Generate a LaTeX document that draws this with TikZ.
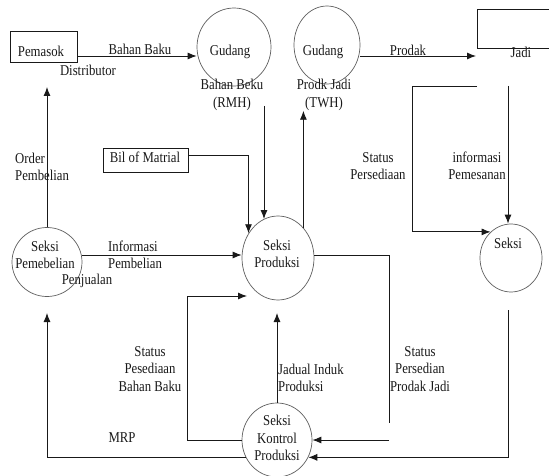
\documentclass[tikz,border=0pt]{standalone}
\usepackage{fontspec}
\setmainfont{Liberation Serif}[FakeStretch=0.85]
\usetikzlibrary{arrows.meta,shapes.geometric}
\definecolor{ink}{RGB}{25,25,25}
\definecolor{rim}{RGB}{95,95,95}
\begin{document}
\begin{tikzpicture}[x=1pt,y=-1pt,
  lbl/.style={font=\fontsize{15}{17.5}\selectfont, inner sep=0pt, text=ink},
  wire/.style={draw=ink, line width=0.9pt},
  flow/.style={wire, -{Latex[length=9pt,width=7pt]}},
  proc/.style={ellipse, draw=rim, line width=0.7pt, inner sep=0pt},
  ent/.style={rectangle, draw=ink, line width=0.9pt, inner sep=0pt}]

\fill[white] (0,0) rectangle (549,476);
\useasboundingbox (0,0) rectangle (549,476);

% external entities and stores
\node[ent, minimum width=67pt, minimum height=31pt] (pemasok) at (43.5,46.5) {};
\node[lbl] (pemasokT) at (41,51) {Pemasok};
\node[ent, minimum width=85pt, minimum height=24pt] (bom) at (145.5,160) {};
\node[lbl] (bomT) at (145,157) {Bil of Matrial};

\node[proc, minimum width=74pt, minimum height=78pt] (rmh) at (234,47) {};
\node[lbl] (rmhT) at (230,52) {Gudang};
\node[lbl, align=center] (rmhL) at (232,95) {Bahan Beku\\(RMH)};

\node[proc, minimum width=66pt, minimum height=78pt] (twh) at (327,45) {};
\node[lbl] (twhT) at (323,52) {Gudang};
\node[lbl, align=center] (twhL) at (324,95) {Prodk Jadi\\(TWH)};

% open box running off the right edge
\coordinate (pjbox) at (477,9);
\draw[wire] (549,9) -- (pjbox) -- (477,48) -- (549,48);
\node[lbl] (pjT) at (521,52) {Jadi};

% processes
\node[proc, minimum width=70pt, minimum height=69pt] (pemb) at (47,262) {};
\node[lbl, align=center] (pembT) at (45,255) {Seksi\\Pemebelian};
\node[proc, minimum width=72pt, minimum height=84pt] (prod) at (278,258) {};
\node[lbl, align=center] (prodT) at (277,254) {Seksi\\Produksi};
\node[proc, minimum width=62pt, minimum height=68pt] (sek) at (511,258) {};
\node[lbl] (sekT) at (508,243) {Seksi};
\node[proc, minimum width=70pt, minimum height=74pt] (kon) at (277,440) {};
\node[lbl, align=center] (konT) at (277,438) {Seksi\\Kontrol\\Produksi};

% free ends of flows
\coordinate (rmhout) at (264,106);
\coordinate (pjin) at (476,56);
\coordinate (pjA) at (477,86);
\coordinate (pjB) at (508,86);
\coordinate (ordtip) at (47,87);
\coordinate (pdA) at (389,423);
\coordinate (pdB) at (389,440);
\coordinate (sdA) at (508,310);
\coordinate (jadtip) at (277,313);
\coordinate (spbtip) at (247,296);
\coordinate (mrptip) at (47,313);

% flows
\draw[flow] ([yshift=-9.5pt]pemasok.east) -- ([yshift=-9pt]rmh.west);
\draw[flow] ([yshift=-11pt]twh.east) -- (pjin);
\draw[flow] (rmhout) -- (rmhout |- prod.110);
\draw[flow] ([yshift=5pt]bom.east) -| (prod.140);
\draw[flow] (prod.50) -- (prod.50 |- twhL.south);
\draw[flow] (pemb.north) -- (ordtip);
\draw[flow] ([yshift=7pt]pemb.east) -- ([yshift=7pt]pemb.east -| prod.west);
\draw[flow] (pjA) -- ++(-65,0) |- (sek.128);
\draw[flow] (pjB) -- (pjB |- sek.north);
\draw[wire] ([yshift=3pt]prod.east) -| (pdA);
\draw[flow] (pdB) -- (kon.east);
\draw[flow] (sdA) |- (kon.-29);
\draw[flow] (kon.north) -- (jadtip);
\draw[flow] (kon.west) -- ++(-54,0) |- (spbtip);
\draw[flow] (kon.209) -| (mrptip);

% flow labels
\node[lbl] (lBB) at (140,49) {Bahan Baku};
\node[lbl] (lDist) at (88,70) {Distributor};
\node[lbl] (lProdak) at (408,50) {Prodak};
\node[lbl, align=center] (lSP) at (378,166) {Status\\Persediaan};
\node[lbl, align=center] (lIP) at (477,166) {informasi\\Pemesanan};
\node[lbl, align=left, anchor=west] (lOP) at (15,167) {Order\\Pembelian};
\node[lbl, align=left, anchor=west] (lInf) at (108,255) {Informasi\\Pembelian};
\node[lbl] (lPenj) at (87,281) {Penjualan};
\node[lbl, align=center] (lSPB) at (150,369) {Status\\Pesediaan\\Bahan Baku};
\node[lbl, align=left, anchor=west] (lJI) at (278,378) {Jadual Induk\\Produksi};
\node[lbl, align=center] (lSPJ) at (420,369) {Status\\Persedian\\Prodak Jadi};
\node[lbl] (lMRP) at (122,438) {MRP};
\end{tikzpicture}
\end{document}
